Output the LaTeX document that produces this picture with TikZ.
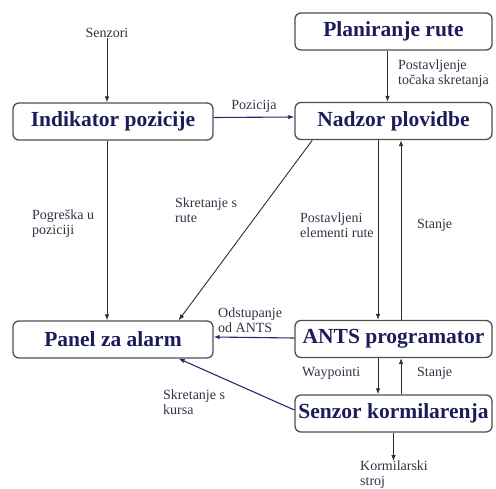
\documentclass[tikz,border=0pt]{standalone}
\usepackage{fontspec}
\setmainfont{Liberation Serif}
\usetikzlibrary{arrows.meta,calc}
\definecolor{boxnavy}{RGB}{28,28,92}
\definecolor{boxedge}{RGB}{80,80,80}
\definecolor{lblgray}{RGB}{50,50,70}
\definecolor{linkgray}{RGB}{45,45,55}
\definecolor{linknavy}{RGB}{40,40,110}

\begin{document}
\begin{tikzpicture}[
  x=1pt, y=-1pt,
  % ── block styles ─────────────────────────────────────────
  block/.style={
    rectangle, rounded corners=6pt,
    minimum width=197pt, minimum height=37pt,
    draw=boxedge, fill=white, line width=1.3pt,
    text=boxnavy, inner sep=0pt,
    font=\fontsize{21.5}{24}\selectfont\bfseries
  },
  % ── link styles ──────────────────────────────────────────
  link/.style={line width=0.9pt, draw=linkgray,
    -{Latex[length=6pt,width=4.5pt]}},
  navylink/.style={link, draw=linknavy, line width=1.1pt},
  % ── label ────────────────────────────────────────────────
  lbl/.style={font=\fontsize{14}{15}\selectfont, text=lblgray,
    align=left, inner sep=0pt},
]
\useasboundingbox (0,0) rectangle (496,488);

%% ── BLOCKS ───────────────────────────────────────────────────
\node[block, minimum width=200pt] (ind)   at (113,121.5) {Indikator pozicije};
\node[block] (plan)  at (393.5,31.5)  {Planiranje rute};
\node[block] (nadz)  at (393.5,121)   {Nadzor plovidbe};
\node[block, minimum width=200pt] (panel) at (113,339.5) {Panel za alarm};
\node[block] (ants)  at (393.5,339)   {ANTS programator};
\node[block] (senz)  at (393.5,413.5) {Senzor kormilarenja};

%% ── FREE-END TEXTS ───────────────────────────────────────────
\node[lbl] (sen) at (107,33) {Senzori};
\node[lbl, anchor=north west] (korm) at (360,461) {Kormilarski\\stroj};

%% ── LINKS ────────────────────────────────────────────────────
\draw[link] (sen.south) -- (sen.south |- ind.north);
\draw[navylink] ($(ind.east)+(0,-4)$) -- ($(nadz.west)+(0,-4)$)
  node[midway, above=4pt, lbl]{Pozicija};
\draw[link] ($(plan.south)+(-6,0)$) -- ($(nadz.north)+(-6,0)$);
\draw[link] ($(nadz.south west)+(18,0)$) -- ($(panel.north east)+(-35,0)$);
\draw[link] (sen.south |- ind.south) -- (sen.south |- panel.north);
\draw[link] ($(nadz.south)+(-15.5,0)$) -- ($(ants.north)+(-15.5,0)$);
\draw[link] ($(ants.north)+(7.5,0)$) -- ($(nadz.south)+(7.5,0)$);
\draw[navylink] ($(ants.west)+(0,-1)$) -- ($(panel.east)+(0,-2.5)$);
\draw[link] ($(ants.south)+(-15.5,0)$) -- ($(senz.north)+(-15.5,0)$);
\draw[link] ($(senz.north)+(7.5,0)$) -- ($(ants.south)+(7.5,0)$);
\draw[navylink] ($(senz.west)+(0,-3.5)$) -- ($(panel.south east)+(-35,0)$);
\draw[link] (senz.south) -- (senz.south |- korm.north);

%% ── LINK LABELS ──────────────────────────────────────────────
\node[lbl, anchor=west] (l1) at (398,74)  {Postavljenje\\točaka skretanja};
\node[lbl, anchor=west] (l2) at (175,210) {Skretanje s\\rute};
\node[lbl, anchor=west] (l3) at (32,224)  {Pogreška u\\poziciji};
\node[lbl, anchor=west] (l4) at (300,225) {Postavljeni\\elementi rute};
\node[lbl, anchor=west] (l5) at (417,225) {Stanje};
\node[lbl, anchor=west] (l6) at (218,320) {Odstupanje\\od ANTS};
\node[lbl, anchor=west] (l7) at (302,373) {Waypointi};
\node[lbl, anchor=west] (l8) at (417,373) {Stanje};
\node[lbl, anchor=west] (l9) at (163,402) {Skretanje s\\kursa};

\end{tikzpicture}
\end{document}
